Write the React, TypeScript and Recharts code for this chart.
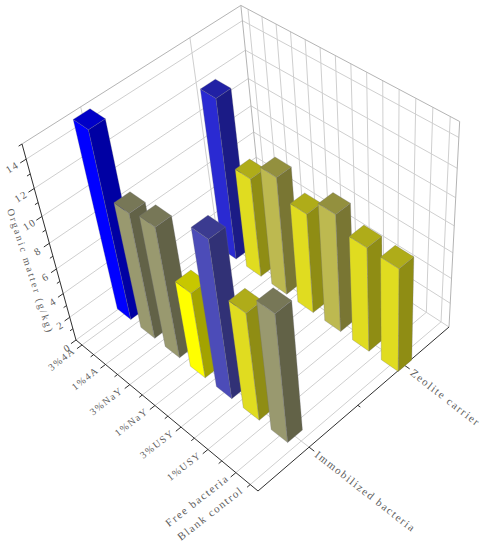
import React from "react";
import { Scatter, ScatterChart, XAxis, YAxis } from "recharts";

const categories = ["3%4A", "1%4A", "3%NaY", "1%NaY", "3%USY", "1%USY", "Free bacteria", "Blank control"];
const categoryTicks = [1, 2, 3, 4, 5, 6, 7, 7.5];
const seriesNames = ["Immobilized bacteria", "Zeolite carrier"];
const valueTicks = [0, 2, 4, 6, 8, 10, 12, 14];

// both rows hold seven bars, the back one sits half a tick further along
const immobilized = [14.5, 10, 10.4, 7, 12.4, 8.7, 10.3];
const zeolite = [12.4, 7.85, 9.25, 7.9, 9.25, 8.25, 8.2];

const immobilizedColors = ["#0000ff", "#99996f", "#99996f", "#ffff00", "#4c4cb8", "#e0dc20", "#99996f"];
const zeoliteColors = ["#2a2ad2", "#e0dc20", "#bdb950", "#e0dc20", "#bdb950", "#e0dc20", "#e0dc20"];

const WIDTH = 488;
const HEIGHT = 550;
const INK = "#5c5c5c";
const FONT = "'Liberation Serif', serif";

// perspective of the box, fitted to its corners (u along categories, v along series, t up)
function project(u: number, v: number, t: number) {
  const w = 1 - 0.11424 * u + 0.08414 * v - 0.147 * t;
  return {
    sx: (76 + 152.53 * u + 206.96 * v - 57.23 * t) / w,
    sy: (340 + 94.91 * u - 117.75 * v - 217.17 * t) / w,
  };
}

const catU = (i: number) => 0.037 + 0.1423 * (i - 1);
const rowV = (y: number) => (y - 0.5) / 2;
const valT = (z: number) => z / 15;

const tickSteps = Array.from({ length: 14 }, (_, k) => 1 + k / 2);

type Seg = { sx: number; sy: number; ex: number; ey: number; stroke: string };

function seg(a: number[], b: number[], stroke: string): Seg {
  const p = project(a[0], a[1], a[2]);
  const q = project(b[0], b[1], b[2]);
  return { sx: p.sx, sy: p.sy, ex: q.sx, ey: q.sy, stroke };
}

const GRID = "#cfcfcf";
const FRAME = "#b4b4b4";
const AXIS = "#2f2f2f";

const gridLines: Seg[] = [];
tickSteps.forEach((i) => {
  const u = catU(i);
  gridLines.push(seg([u, 0, 0], [u, 1, 0], GRID));
  gridLines.push(seg([u, 1, 0], [u, 1, 1], GRID));
});
[0.25, 0.75].forEach((v) => {
  gridLines.push(seg([0, v, 0], [1, v, 0], GRID));
  gridLines.push(seg([0, v, 0], [0, v, 1], GRID));
});
valueTicks.forEach((z) => {
  gridLines.push(seg([0, 0, valT(z)], [0, 1, valT(z)], GRID));
  gridLines.push(seg([0, 1, valT(z)], [1, 1, valT(z)], GRID));
});
gridLines.push(seg([0, 0, 1], [0, 1, 1], FRAME));
gridLines.push(seg([0, 1, 1], [1, 1, 1], FRAME));
gridLines.push(seg([0, 1, 0], [0, 1, 1], FRAME));
gridLines.push(seg([1, 1, 0], [1, 1, 1], FRAME));

const axisLines: Seg[] = [
  seg([0, 0, 0], [1, 0, 0], AXIS),
  seg([1, 0, 0], [1, 1, 0], AXIS),
  seg([0, 0, 0], [0, 0, 1], AXIS),
];
tickSteps.forEach((i, k) => {
  axisLines.push(seg([catU(i), 0, 0], [catU(i), k % 2 === 0 ? -0.025 : -0.015, 0], AXIS));
});
[0.25, 0.5, 0.75].forEach((v, k) => {
  axisLines.push(seg([1, v, 0], [k === 1 ? 1.012 : 1.025, v, 0], AXIS));
});
for (let z = 0; z <= 15; z++) {
  axisLines.push(seg([0, 0, valT(z)], [0, z % 2 === 0 ? -0.025 : -0.014, valT(z)], AXIS));
}

// half a bar in u and v
const DU = 0.041;
const DV = 0.037;

function shade(hex: string, k: number) {
  const n = parseInt(hex.slice(1), 16);
  const c = [(n >> 16) & 255, (n >> 8) & 255, n & 255].map((x) => Math.round(x * k));
  return `rgb(${c[0]},${c[1]},${c[2]})`;
}

function barPoint(i: number, y: number, value: number, color: string) {
  const u = catU(i);
  const v = rowV(y);
  const t = valT(value);
  const corners = [
    [u - DU, v - DV],
    [u + DU, v - DV],
    [u + DU, v + DV],
    [u - DU, v + DV],
  ];
  const base = project(u, v, 0);
  return {
    ...base,
    color,
    low: corners.map((c) => project(c[0], c[1], 0)),
    high: corners.map((c) => project(c[0], c[1], t)),
  };
}

// back row first, so that the front row paints over it
const bars = [
  ...zeolite.map((val, k) => barPoint(k + 1.5, 2, val, zeoliteColors[k])),
  ...immobilized.map((val, k) => barPoint(k + 1, 1, val, immobilizedColors[k])),
];

function label(p: { sx: number; sy: number }, dx: number, dy: number, text: string, angle: number, anchor: string, size: number, spacing = "0.14em") {
  return { sx: p.sx + dx, sy: p.sy + dy, text, angle, anchor, size, spacing };
}

const labels = [
  ...categories.map((c, k) => label(project(catU(categoryTicks[k]), 0, 0), -6, 7, c, -38, "end", k > 5 ? 11 : 10)),
  ...seriesNames.map((s, k) => label(project(1, rowV(k + 1), 0), 5, 9, s, 38, "start", 11)),
  ...valueTicks.map((z) => label(project(0, 0, valT(z)), -7 - z * 0.35, 11, String(z), -32, "middle", 10.5)),
  label({ sx: 7, sy: 210 }, 0, 0, "Organic matter (g/kg)", 72, "start", 10, "0.21em"),
];

function LineShape(props: any) {
  const { cx, cy, payload } = props;
  return (
    <line
      x1={cx}
      y1={cy}
      x2={cx + payload.ex - payload.sx}
      y2={cy + payload.ey - payload.sy}
      stroke={payload.stroke}
      strokeWidth={1}
    />
  );
}

function BarShape(props: any) {
  const { cx, cy, payload } = props;
  const at = (p: { sx: number; sy: number }) => `${cx + p.sx - payload.sx},${cy + p.sy - payload.sy}`;
  const { low, high, color } = payload;
  const face = (pts: { sx: number; sy: number }[], fill: string) => (
    <polygon points={pts.map(at).join(" ")} fill={fill} stroke="rgba(110,110,120,0.45)" strokeWidth={0.6} />
  );
  return (
    <g>
      {face([low[0], low[1], high[1], high[0]], color)}
      {face([low[1], low[2], high[2], high[1]], shade(color, 0.64))}
      {face(high, shade(color, 0.78))}
    </g>
  );
}

function TextShape(props: any) {
  const { cx, cy, payload } = props;
  return (
    <text
      x={cx}
      y={cy}
      transform={`rotate(${payload.angle} ${cx} ${cy})`}
      textAnchor={payload.anchor}
      fontFamily={FONT}
      fontSize={payload.size}
      letterSpacing={payload.spacing}
      fill={INK}
    >
      {payload.text}
    </text>
  );
}

export default function App() {
  return (
    <div style={{ position: "absolute", left: 0, top: 0 }}>
      <ScatterChart width={WIDTH} height={HEIGHT} margin={{ top: 0, right: 0, bottom: 0, left: 0 }}>
        <XAxis type="number" dataKey="sx" domain={[0, WIDTH]} hide />
        <YAxis type="number" dataKey="sy" domain={[0, HEIGHT]} reversed hide />
        <Scatter data={gridLines} shape={LineShape} isAnimationActive={false} />
        <Scatter data={axisLines} shape={LineShape} isAnimationActive={false} />
        <Scatter data={bars} shape={BarShape} isAnimationActive={false} />
        <Scatter data={labels} shape={TextShape} isAnimationActive={false} />
      </ScatterChart>
    </div>
  );
}
